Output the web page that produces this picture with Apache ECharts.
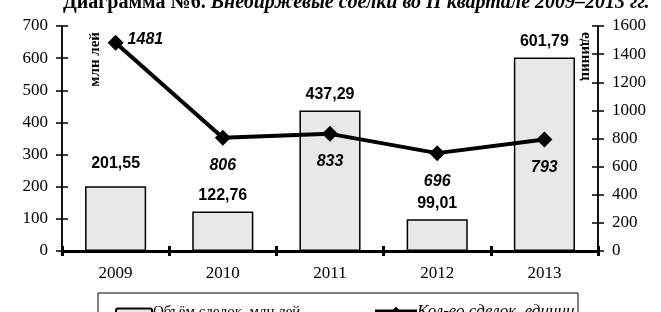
<!DOCTYPE html>
<html><head><meta charset="utf-8">
<script src="https://cdn.jsdelivr.net/npm/echarts@6/dist/echarts.min.js"></script>
<style>html,body{margin:0;padding:0;background:#fff}#c{width:661px;height:312px}</style>
</head><body><div id="c"></div>
<script>
var categories = ['2009','2010','2011','2012','2013'];
var volumes = [201.55, 122.76, 437.29, 99.01, 601.79];
var counts = [1481, 806, 833, 696, 793];
var leftTicks = {min:0, max:700, interval:100};
var rightTicks = {min:0, max:1600, interval:200};
var barName = 'Объём сделок, млн лей';
var lineName = 'Кол-во сделок, единиц';

var serif = 'Liberation Serif, Times New Roman, serif';
var sans = 'Liberation Sans, Arial, sans-serif';
var chart = echarts.init(document.getElementById('c'));
function fmt(v){return v.toFixed(2).replace('.',',');}
var baseY = {type:'value', splitLine:{show:false},
  axisLine:{show:true, lineStyle:{color:'#000', width:1.5}},
  axisTick:{show:true, length:6, lineStyle:{color:'#000', width:1.5}},
  axisLabel:{color:'#000', fontFamily:serif, fontSize:17, margin:14, formatter:function(v){return String(v);}}};
var lineData = counts.map(function(v,i){
  return i===0 ? {value:v, label:{position:'right', distance:4, offset:[0,-3]}} : v;
});
chart.setOption({
  animation:false,
  title:{text:'{b|Диаграмма №6.} {i|Внебиржевые сделки во II квартале 2009–2013 гг.}', left:58, top:-12,
    textStyle:{rich:{b:{fontFamily:serif, fontWeight:'bold', fontSize:20, color:'#000'}, i:{fontFamily:serif, fontStyle:'italic', fontSize:20, color:'#000'}}}},
  grid:{left:62, right:63, top:26, bottom:61},
  legend:[
    {data:[barName], left:110, top:300, itemWidth:36, itemHeight:8, itemGap:2,
      textStyle:{fontFamily:serif, fontSize:15, color:'#000', padding:[0,0,0,-4]}},
    {data:[lineName], left:368, top:298, itemWidth:42, itemHeight:12,
      lineStyle:{width:4},
      textStyle:{fontFamily:serif, fontSize:17, fontStyle:'italic', color:'#000', padding:[0,0,0,-5]}}
  ],
  xAxis:[
    {type:'category', data:categories, axisLine:{lineStyle:{color:'#000', width:3}},
     axisTick:{show:true, length:5, lineStyle:{color:'#000', width:3}},
     axisLabel:{color:'#000', fontFamily:serif, fontSize:17, margin:14}},
    {type:'category', data:categories, position:'bottom', axisLine:{show:false},
     axisTick:{show:true, inside:true, length:5, lineStyle:{color:'#000', width:3}},
     axisLabel:{show:false}}
  ],
  yAxis:[
    Object.assign({}, baseY, leftTicks, {position:'left'}),
    Object.assign({}, baseY, rightTicks, {position:'right'}),
    Object.assign({}, baseY, leftTicks, {position:'left', axisTick:{show:true, inside:true, length:6, lineStyle:{color:'#000', width:1.5}}, axisLabel:{show:false}}),
    Object.assign({}, baseY, rightTicks, {position:'right', axisTick:{show:true, inside:true, length:6, lineStyle:{color:'#000', width:1.5}}, axisLabel:{show:false}})
  ],
  series:[
    {name:barName, type:'bar', data:volumes, xAxisIndex:0, yAxisIndex:0, barWidth:'57%',
     itemStyle:{color:'#e8e8e8', borderColor:'#000', borderWidth:1.5},
     label:{show:true, position:'top', distance:8, formatter:function(p){return fmt(p.value);},
       fontFamily:sans, fontWeight:'bold', fontSize:16, color:'#000'},
     labelLayout:function(p){ return p.dataIndex===0 ? {dy:-7} : {}; }},
    {name:lineName, type:'line', data:lineData, xAxisIndex:0, yAxisIndex:1, z:5,
     symbol:'diamond', symbolSize:16, lineStyle:{color:'#000', width:4}, itemStyle:{color:'#000'},
     label:{show:true, position:'bottom', distance:12, fontFamily:sans, fontWeight:'bold', fontStyle:'italic', fontSize:16, color:'#000'}}
  ],
  graphic:[
    {type:'text', left:88, top:32, rotation:Math.PI/2, style:{text:'млн лей', font:'bold 15px '+serif, fill:'#000'}},
    {type:'text', left:578, top:32, rotation:-Math.PI/2, style:{text:'единиц', font:'bold 15px '+serif, fill:'#000'}},
    {type:'rect', shape:{x:98, y:293, width:480, height:40}, style:{fill:'none', stroke:'#000', lineWidth:1}}
  ]
});
</script></body></html>
